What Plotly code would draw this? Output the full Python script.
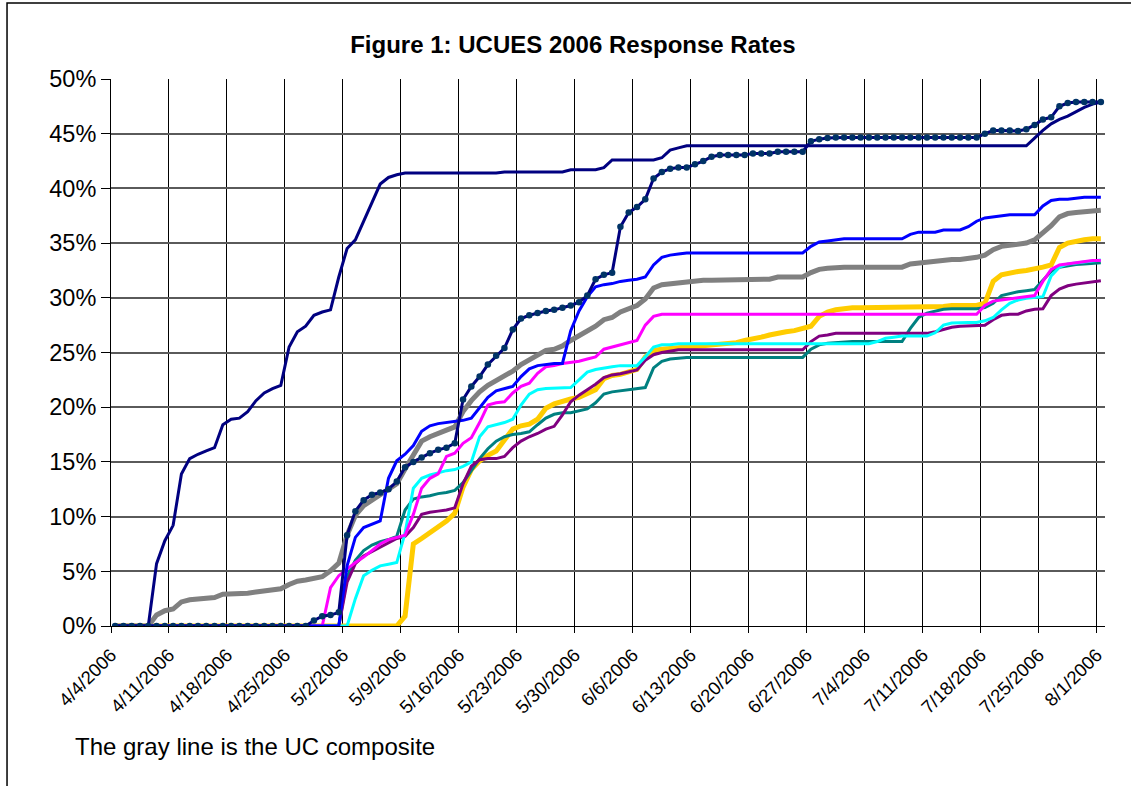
import plotly.graph_objects as go
import pandas as pd

# ---- data (percent response, one value per day from 4/4/2006 to 8/1/2006) ----
START_DATE = "2006-04-04 12:00"
N_DAYS = 120

TICK_DATES = ["2006-04-04", "2006-04-11", "2006-04-18", "2006-04-25", "2006-05-02",
              "2006-05-09", "2006-05-16", "2006-05-23", "2006-05-30", "2006-06-06",
              "2006-06-13", "2006-06-20", "2006-06-27", "2006-07-04", "2006-07-11",
              "2006-07-18", "2006-07-25", "2006-08-01"]
TICK_LABELS = ["4/4/2006", "4/11/2006", "4/18/2006", "4/25/2006", "5/2/2006",
               "5/9/2006", "5/16/2006", "5/23/2006", "5/30/2006", "6/6/2006",
               "6/13/2006", "6/20/2006", "6/27/2006", "7/4/2006", "7/11/2006",
               "7/18/2006", "7/25/2006", "8/1/2006"]

navy = ([0] * 5 +
        [5.7, 7.8, 9.2, 13.9, 15.3, 15.7, 16.0, 16.3, 18.4, 18.9, 19.0, 19.6, 20.6, 21.3, 21.7,
         22.0, 25.5, 26.9, 27.4, 28.4, 28.7, 28.9, 31.9, 34.5, 35.3, 37.0, 38.6, 40.4, 41.0, 41.25] +
        [41.4] * 12 + [41.5] * 8 + [41.7] * 4 + [41.9] + [42.6] * 6 +
        [42.8, 43.5, 43.7] + [43.9] * 42 +
        [44.6, 45.3, 45.9, 46.3, 46.6, 47.0, 47.4, 47.7, 47.9])

navy_dotted = ([0] * 24 +
               [0.5, 0.9, 1.0, 1.25, 8.3, 10.5, 11.5, 12.0, 12.2, 12.5, 13.2, 14.5, 15.0, 15.4,
                15.8, 16.1, 16.3, 16.7, 20.7, 21.9, 22.8, 23.9, 24.7, 25.4, 27.1, 28.1, 28.4,
                28.6, 28.8, 28.9, 29.1, 29.3, 29.6, 30.2, 31.7, 32.1, 32.3, 36.5, 37.8, 38.3,
                39.0, 40.9, 41.5, 41.8, 41.9, 41.9, 42.2, 42.5, 42.9] +
               [43.05] * 4 + [43.2] * 3 + [43.35] * 4 + [44.3, 44.5, 44.6] + [44.65] * 18 +
               [45.0, 45.3, 45.3, 45.3, 45.25, 45.4, 45.8, 46.3, 46.5, 47.5, 47.8] + [47.9] * 4)

blue = ([0] * 28 +
        [5.5, 8.1, 9.0, 9.3, 9.6, 13.5, 15.1, 15.7, 16.5, 17.8, 18.3, 18.5, 18.6, 18.7, 18.8,
         19.0, 19.9, 20.9, 21.5, 21.7, 21.9, 22.8, 23.5, 23.8, 23.9, 24.0, 24.0, 27.0, 28.8,
         30.1, 31.0, 31.2, 31.3, 31.5, 31.6, 31.7, 31.9, 33.0, 33.7, 33.9, 34.0] +
        [34.1] * 15 + [34.7, 35.1, 35.2, 35.3] + [35.4] * 8 +
        [35.8, 36.0, 36.0, 36.0, 36.2, 36.2, 36.2, 36.5, 37.0, 37.3, 37.4, 37.5] +
        [37.6] * 4 + [38.4, 38.9, 39.0, 39.0, 39.1] + [39.2] * 3)

uc_composite = ([0] * 5 +
                [1.0, 1.4, 1.55, 2.2, 2.4, 2.5, 2.5, 2.6, 2.9, 2.9, 2.95, 3.0, 3.1, 3.2, 3.3,
                 3.4, 3.8, 4.1, 4.2, 4.3, 4.5, 5.05, 5.75, 8.3, 10.1, 11.0, 11.5, 12.1, 12.5,
                 13.0, 14.35, 15.6, 16.9, 17.3, 17.55, 17.9, 18.2, 19.6, 20.6, 21.4, 22.0,
                 22.4, 22.8, 23.3, 23.9, 24.3, 24.8, 25.2, 25.3, 25.6, 26.1, 26.5, 26.9, 27.4,
                 28.0, 28.2, 28.7, 29.0, 29.3, 29.9, 30.9, 31.2, 31.3, 31.4, 31.4, 31.5, 31.6,
                 31.6, 31.6, 31.7, 31.7, 31.7, 31.7, 31.7, 31.7] +
                [31.9] * 4 + [32.3, 32.6, 32.7] + [32.8] * 9 + [33.1, 33.2, 33.3, 33.4] +
                [33.5] * 3 +
                [33.55, 33.7, 33.9, 34.4, 34.7, 34.8, 34.9, 35.0, 35.3, 35.9, 36.6, 37.4, 37.7,
                 37.8, 37.9, 38.0, 38.0])

magenta = ([0] * 26 +
           [3.5, 4.6, 5.2, 5.8, 6.3, 6.9, 7.5, 7.9, 8.1, 8.3, 10.2, 12.6, 13.5, 13.9, 15.5,
            15.8, 16.7, 17.2, 18.6, 20.2, 20.4, 20.5, 21.3, 21.9, 22.2, 23.1, 23.7, 23.8,
            24.0, 24.1, 24.2, 24.4, 24.6, 25.3, 25.5, 25.7, 25.9, 26.1, 27.5, 28.3] +
           [28.5] * 39 +
           [29.3, 29.7, 29.8, 29.9, 30.0, 30.1, 30.2, 31.5, 32.6, 33.0, 33.1, 33.2, 33.3,
            33.4, 33.4])

cyan = ([0] * 29 +
        [2.5, 4.6, 5.1, 5.5, 5.65, 5.8, 8.5, 12.6, 13.5, 13.8, 14.0, 14.2, 14.3, 14.6, 15.0,
         17.3, 18.2, 18.4, 18.6, 18.9, 20.2, 21.2, 21.6, 21.7, 21.75, 21.8, 21.8, 22.5, 23.2,
         23.45, 23.6, 23.7, 23.8, 23.8, 23.8, 24.6, 25.5, 25.7, 25.7] +
        [25.8] * 24 +
        [26.0, 26.3, 26.4, 26.5, 26.5, 26.5, 26.5, 26.8, 27.5, 27.7, 27.75, 27.75, 27.75,
         27.9, 28.2, 28.9, 29.5, 29.8, 29.95, 30.0, 30.1, 32.0, 32.8, 33.1, 33.2, 33.3,
         33.4, 33.45])

gold = ([0] * 35 +
        [0.9, 7.5, 8.0, 8.5, 9.0, 9.6, 10.3, 12.7, 14.3, 15.1, 15.6, 16.0, 17.0, 18.0, 18.3,
         18.45, 18.9, 19.9, 20.3, 20.55, 20.75, 20.9, 21.2, 21.6, 22.6, 22.9, 23.0, 23.2,
         23.45, 24.6, 25.2, 25.3, 25.4, 25.45, 25.5, 25.55, 25.6, 25.7, 25.8, 25.85, 25.9,
         26.1, 26.2, 26.4, 26.6, 26.8, 26.9, 27.0, 27.15, 27.4, 28.3, 28.7, 28.9, 29.05] +
        [29.1] * 11 +
        [29.2, 29.3, 29.3, 29.3, 29.3, 29.5, 31.5, 32.1, 32.3, 32.4, 32.5, 32.6, 32.8, 33.0,
         34.6, 35.0, 35.2, 35.3, 35.4, 35.4])

purple = ([0] * 28 +
          [4.0, 5.7, 6.4, 6.8, 7.2, 7.6, 8.0, 8.2, 9.0, 10.2, 10.4, 10.5, 10.6, 10.8, 13.0,
           14.6, 15.2, 15.3, 15.3, 15.5, 16.3, 16.9, 17.3, 17.6, 18.0, 18.25, 19.3, 20.5,
           21.1, 21.6, 22.1, 22.7, 22.95, 23.05, 23.2, 23.4, 24.3, 24.8, 25.0, 25.1] +
          [25.25] * 16 + [26.0, 26.5, 26.6] + [26.75] * 12 +
          [26.9, 27.1, 27.3, 27.4, 27.45, 27.45, 27.5, 28.0, 28.4, 28.5, 28.5, 28.8, 28.95,
           29.0, 30.2, 30.8, 31.1, 31.25, 31.35, 31.45, 31.55])

teal = ([0] * 28 +
        [4.5, 6.0, 6.9, 7.4, 7.7, 7.9, 8.2, 10.6, 11.6, 11.8, 11.9, 12.1, 12.2, 12.4, 13.1,
         14.2, 15.3, 16.2, 16.9, 17.3, 17.5, 17.6, 17.75, 18.4, 19.0, 19.35, 19.5, 19.5,
         19.65, 19.85, 20.4, 21.2, 21.4, 21.5, 21.6, 21.7, 21.8, 23.6, 24.2, 24.4, 24.5] +
        [24.55] * 15 + [25.3, 25.7, 25.85, 25.9] + [26.0] * 8 +
        [27.2, 28.2, 28.6, 28.8, 28.95] + [29.0] * 4 +
        [29.1, 29.5, 30.2, 30.4, 30.55, 30.65, 30.75, 31.6, 32.4, 32.8, 32.95, 33.05, 33.1,
         33.15, 33.2])

dates = pd.date_range(START_DATE, periods=N_DAYS, freq="D")

FONT = "Liberation Sans, Arial, sans-serif"

# bottom-to-top drawing order
series = [
    ("gold", gold, "#FFCC00", 5, False),
    ("teal", teal, "#008080", 3, False),
    ("purple", purple, "#800080", 3, False),
    ("cyan", cyan, "#00FFFF", 3, False),
    ("magenta", magenta, "#FF00FF", 3, False),
    ("UC composite", uc_composite, "#808080", 5, False),
    ("blue", blue, "#0000FF", 3, False),
    ("navy", navy, "#000080", 3, False),
    ("navy dotted", navy_dotted, "#000080", 3, True),
]

fig = go.Figure()
for name, vals, color, width, markers in series:
    fig.add_trace(go.Scatter(
        x=dates, y=vals, name=name,
        mode="lines+markers" if markers else "lines",
        line=dict(color=color, width=width),
        marker=dict(color="#003366", size=6.5) if markers else None,
        hoverinfo="x+y+name",
    ))

fig.update_layout(
    width=1131, height=786,
    margin=dict(l=111, r=26, t=79, b=160),
    paper_bgcolor="white", plot_bgcolor="white",
    showlegend=False,
    font=dict(family=FONT, color="black"),
    title=dict(text="<b>Figure 1: UCUES 2006 Response Rates</b>",
               x=0.5066, y=0.9427, xref="container", yref="container",
               xanchor="center", yanchor="middle",
               font=dict(family=FONT, size=24, color="black")),
    xaxis=dict(
        type="date", range=["2006-04-04", "2006-08-02"],
        tickmode="array", tickvals=TICK_DATES, ticktext=TICK_LABELS,
        tickangle=-45, tickfont=dict(family=FONT, size=18.5, color="black"),
        ticklabelstandoff=4,
        showgrid=True, gridcolor="#000000", gridwidth=1,
        showline=True, linecolor="#000000", linewidth=1,
        ticks="outside", ticklen=6, tickcolor="#000000",
        zeroline=False,
    ),
    yaxis=dict(
        range=[0, 50], dtick=5, tick0=0, ticksuffix="%",
        tickfont=dict(family=FONT, size=23.5, color="black"),
        showgrid=True, gridcolor="#5a5a5a", gridwidth=2,
        showline=True, linecolor="#000000", linewidth=1,
        ticks="outside", ticklen=9, tickcolor="#000000",
        zeroline=False,
    ),
    shapes=[dict(type="rect", xref="paper", yref="paper",
                 x0=-0.1046, x1=1.06, y0=-0.36, y1=1.139,
                 line=dict(color="black", width=1.5), fillcolor="rgba(0,0,0,0)",
                 layer="below")],
    annotations=[dict(text="The gray line is the UC composite",
                      xref="paper", yref="paper", x=-0.0382, y=-0.2212,
                      xanchor="left", yanchor="middle", showarrow=False,
                      font=dict(family=FONT, size=24, color="black"))],
)

fig.write_html("out.html",
               config={"displayModeBar": False},
               post_script="document.body.style.margin='0';"
                           "document.body.style.overflow='hidden';")
